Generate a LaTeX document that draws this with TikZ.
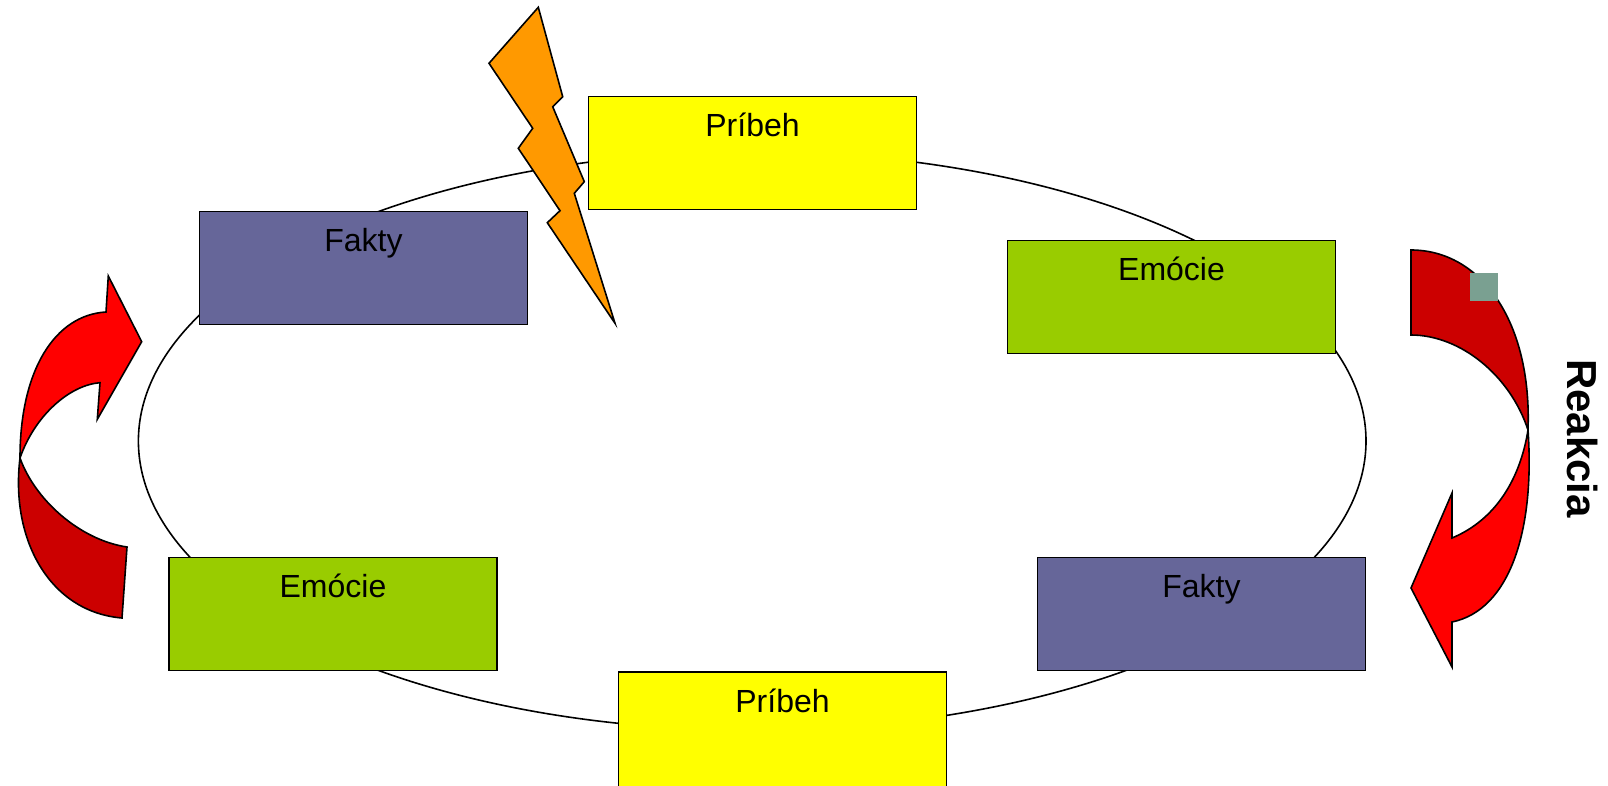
\documentclass[tikz,border=0pt]{standalone}
\usepackage{fontspec}
\setmainfont{Liberation Sans}
\definecolor{byellow}{RGB}{255,255,0}
\definecolor{bpurple}{RGB}{102,102,153}
\definecolor{bgreen}{RGB}{153,204,0}
\definecolor{bolt}{RGB}{255,153,0}
\definecolor{lred}{RGB}{255,0,0}
\definecolor{dred}{RGB}{204,0,0}
\definecolor{sq}{RGB}{122,160,145}
\begin{document}
\begin{tikzpicture}[x=1pt,y=-1pt,
  box/.style={draw=black,line width=1.6pt,minimum width=328pt,minimum height=113pt,inner sep=0pt,outer sep=0pt},
  lbl/.style={font=\fontsize{32}{38}\selectfont,anchor=base,inner sep=0pt},
  shp/.style={draw=black,line width=1.6pt,line join=miter}]
\useasboundingbox (0,0) rectangle (1608,786);
\clip (0,0) rectangle (1608,786);
\fill[white] (0,0) rectangle (1608,786);
\draw[line width=1.6pt] (752.2,441) ellipse [x radius=613.8pt, y radius=289.2pt];
% boxes
\node[box,fill=byellow] (p1) at (752.5,153) {};
\node[box,fill=bpurple] (f1) at (363.5,268) {};
\node[box,fill=bgreen] (e1) at (1171.5,297) {};
\node[box,fill=bgreen] (e2) at (333,614) {};
\node[box,fill=bpurple] (f2) at (1201.5,614) {};
\node[box,fill=byellow,minimum height=140pt] (p2) at (782.5,742) {};
\node[lbl] (p1t) at ([yshift=-40pt]p1.north) {Príbeh};
\node[lbl] (f1t) at ([yshift=-40pt]f1.north) {Fakty};
\node[lbl] (e1t) at ([yshift=-40pt]e1.north) {Emócie};
\node[lbl] (e2t) at ([yshift=-40pt]e2.north) {Emócie};
\node[lbl] (f2t) at ([yshift=-40pt]f2.north) {Fakty};
\node[lbl] (p2t) at ([yshift=-40pt]p2.north) {Príbeh};
% lightning
\draw[shp,fill=bolt] (538.3,7.3) -- (562.7,96.7) -- (552.7,106.7) -- (584.3,181.7) -- (574.3,193.3) -- (615,323.3) -- (547.3,222.7) -- (560,210.7) -- (518.3,148.3) -- (532.7,128.3) -- (489,63.3) -- cycle;
% left curved arrow
\draw[shp,fill=dred] (20,458) .. controls (10,540) and (50,612) .. (122,618) -- (127,547) .. controls (80,540) and (35,500) .. (20,458) -- cycle;
\draw[shp,fill=lred] (20,458) .. controls (20,370) and (55,315) .. (106,312) -- (108.3,276) -- (141.7,341.7) -- (97.3,419.3) -- (100,382.7) .. controls (70,385) and (35,415) .. (20,458) -- cycle;
% right curved arrow
\draw[shp,fill=dred] (1411,250) .. controls (1480,250) and (1532,320) .. (1528,430) .. controls (1510,375) and (1460,335) .. (1411,335) -- cycle;
\draw[shp,fill=lred] (1528,430) .. controls (1535,530) and (1510,610) .. (1452,622) -- (1452,667) -- (1411,588) -- (1452,493) -- (1452,538) .. controls (1495,520) and (1520,480) .. (1528,430) -- cycle;
\fill[sq] (1470,273) rectangle (1498,301);
\node[font=\bfseries\fontsize{42}{50}\selectfont,rotate=-90,inner sep=0pt] (reak) at (1582,438.5) {Reakcia};
\end{tikzpicture}
\end{document}
